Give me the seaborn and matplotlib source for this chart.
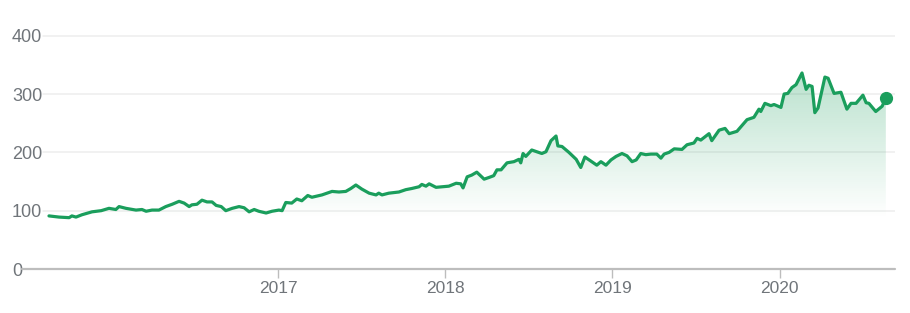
import numpy as np
import pandas as pd
import matplotlib
matplotlib.use("Agg")
import matplotlib.pyplot as plt
import matplotlib.dates as mdates
from matplotlib.colors import LinearSegmentedColormap
import seaborn as sns

dates = [
    "2015-08-20", "2015-09-11", "2015-10-03", "2015-10-09", "2015-10-18", "2015-10-31",
    "2015-11-22", "2015-12-12", "2015-12-29", "2016-01-13", "2016-01-20", "2016-02-04",
    "2016-02-26", "2016-03-10", "2016-03-19", "2016-04-01", "2016-04-16", "2016-05-01",
    "2016-05-15", "2016-05-30", "2016-06-10", "2016-06-21", "2016-06-27", "2016-07-08",
    "2016-07-19", "2016-07-30", "2016-08-10", "2016-08-19", "2016-08-30", "2016-09-09",
    "2016-09-23", "2016-10-08", "2016-10-19", "2016-10-30", "2016-11-10", "2016-11-20",
    "2016-12-06", "2016-12-19", "2017-01-03", "2017-01-10", "2017-01-18", "2017-01-31",
    "2017-02-11", "2017-02-22", "2017-03-07", "2017-03-16", "2017-04-07", "2017-04-29",
    "2017-05-14", "2017-05-29", "2017-06-09", "2017-06-20", "2017-07-03", "2017-07-19",
    "2017-08-03", "2017-08-09", "2017-08-16", "2017-08-31", "2017-09-22", "2017-10-07",
    "2017-10-20", "2017-11-05", "2017-11-11", "2017-11-20", "2017-11-27", "2017-12-12",
    "2017-12-25", "2018-01-09", "2018-01-25", "2018-02-04", "2018-02-09", "2018-02-18",
    "2018-02-28", "2018-03-11", "2018-03-27", "2018-04-07", "2018-04-17", "2018-04-24",
    "2018-05-03", "2018-05-16", "2018-05-31", "2018-06-11", "2018-06-15", "2018-06-20",
    "2018-06-26", "2018-07-09", "2018-07-20", "2018-07-31", "2018-08-09", "2018-08-20",
    "2018-08-31", "2018-09-04", "2018-09-13", "2018-09-28", "2018-10-14", "2018-10-24",
    "2018-11-02", "2018-11-17", "2018-11-28", "2018-12-07", "2018-12-18", "2018-12-29",
    "2019-01-09", "2019-01-22", "2019-02-02", "2019-02-13", "2019-02-22", "2019-03-04",
    "2019-03-15", "2019-03-26", "2019-04-08", "2019-04-17", "2019-04-24", "2019-05-05",
    "2019-05-16", "2019-06-02", "2019-06-13", "2019-06-28", "2019-07-05", "2019-07-13",
    "2019-07-31", "2019-08-06", "2019-08-22", "2019-09-04", "2019-09-13", "2019-09-30",
    "2019-10-22", "2019-11-06", "2019-11-17", "2019-11-21", "2019-11-30", "2019-12-13",
    "2019-12-20", "2019-12-26", "2020-01-04", "2020-01-11", "2020-01-19", "2020-01-28",
    "2020-02-06", "2020-02-19", "2020-02-28", "2020-03-05", "2020-03-12", "2020-03-18",
    "2020-03-25", "2020-04-09", "2020-04-16", "2020-04-29", "2020-05-14", "2020-05-27",
    "2020-06-05", "2020-06-16", "2020-07-01", "2020-07-08", "2020-07-14", "2020-07-29",
    "2020-08-12", "2020-08-20",
]
prices = [
    91, 89, 88, 91, 89, 93,
    98, 100, 104, 102, 107, 104,
    101, 102, 99, 101, 101, 107,
    111, 116, 113, 107, 110, 111,
    118, 115, 115, 109, 107, 100,
    104, 107, 105, 98, 102, 99,
    96, 99, 101, 100, 114, 113,
    120, 117, 126, 123, 127, 133,
    132, 133, 138, 144, 137, 130,
    127, 130, 127, 130, 132, 136,
    138, 141, 145, 142, 146, 140,
    141, 142, 147, 146, 139, 158,
    161, 166, 154, 157, 160, 170,
    170, 182, 184, 188, 182, 198,
    193, 204, 201, 198, 201, 220,
    228, 211, 210, 200, 188, 174,
    192, 184, 178, 184, 178, 187,
    193, 198, 194, 184, 187, 198,
    196, 197, 197, 190, 197, 200,
    206, 205, 213, 216, 224, 221,
    232, 220, 238, 241, 232, 236,
    256, 260, 274, 270, 284, 280,
    282, 280, 277, 300, 301, 311,
    316, 336, 308, 315, 313, 268,
    276, 329, 327, 301, 303, 274,
    284, 284, 298, 285, 284, 270,
    279, 293,
]
tick_dates = ["2017-01-01", "2018-01-01", "2019-01-01", "2020-01-01"]
tick_labels = ["2017", "2018", "2019", "2020"]
y_ticks = [0, 100, 200, 300, 400]

GREEN = "#1a9e5c"
LABEL = "#70757a"
GRID = "#eeeeee"
AXIS = "#bdbdbd"

sns.set_theme(style="white")
plt.rcParams["font.family"] = ["Liberation Sans", "DejaVu Sans"]

df = pd.DataFrame({"date": pd.to_datetime(dates), "price": prices})

W, H = 910, 313
fig = plt.figure(figsize=(W / 100, H / 100), dpi=100)
ax = fig.add_axes([12 / W, 44 / H, 883 / W, 245 / H])

# pixel-to-date scale derived from year ticks (167.3 px per year)
days_per_px = 365.25 / 167.3
anchor = mdates.date2num(pd.Timestamp("2017-01-01"))
xmin = anchor - 266 * days_per_px
xmax = anchor + 617 * days_per_px

# gradient fill under the line
xnum = mdates.date2num(df["date"])
base = min(prices)
poly = ax.fill_between(xnum, df["price"], base, color="none", lw=0)
cmap = LinearSegmentedColormap.from_list(
    "g", [(0.10, 0.62, 0.36, 0.0), (0.10, 0.62, 0.36, 0.30)])
grad = np.linspace(0, 1, 256).reshape(-1, 1)
im = ax.imshow(grad, aspect="auto", origin="lower", cmap=cmap,
               extent=[xnum.min(), xnum.max(), base, max(prices)], zorder=1)
im.set_clip_path(poly.get_paths()[0], transform=ax.transData)

sns.lineplot(data=df, x=xnum, y="price", color=GREEN, lw=2.3, ax=ax, zorder=3)
last = df.tail(1)
ax.plot(mdates.date2num(last["date"]), last["price"], "o", color=GREEN,
        ms=8.5, zorder=4)

ax.set_xlim(xmin, xmax)
ax.set_ylim(0, 420)

for v in y_ticks[1:]:
    ax.axhline(v, xmin=(43 - 12) / 883, xmax=1, color=GRID, lw=1.1, zorder=0)
ax.axhline(0, xmin=(22 - 12) / 883, xmax=1, color=AXIS, lw=1.6, zorder=2,
           clip_on=False)

for s in ax.spines.values():
    s.set_visible(False)

ax.set_yticks(y_ticks)
ax.set_yticklabels([str(v) for v in y_ticks])
for lab in ax.get_yticklabels():
    lab.set_horizontalalignment("left")
ax.tick_params(axis="y", length=0, pad=0, labelsize=13, labelcolor=LABEL)

ax.set_xticks(mdates.date2num(pd.to_datetime(tick_dates)))
ax.set_xticklabels(tick_labels)
ax.tick_params(axis="x", length=6.5, width=1, color=AXIS, pad=2,
               labelsize=12.5, labelcolor=LABEL, bottom=True)
ax.set_xlabel("")
ax.set_ylabel("")
ax.grid(False)

fig.savefig("out.png", dpi=100)
